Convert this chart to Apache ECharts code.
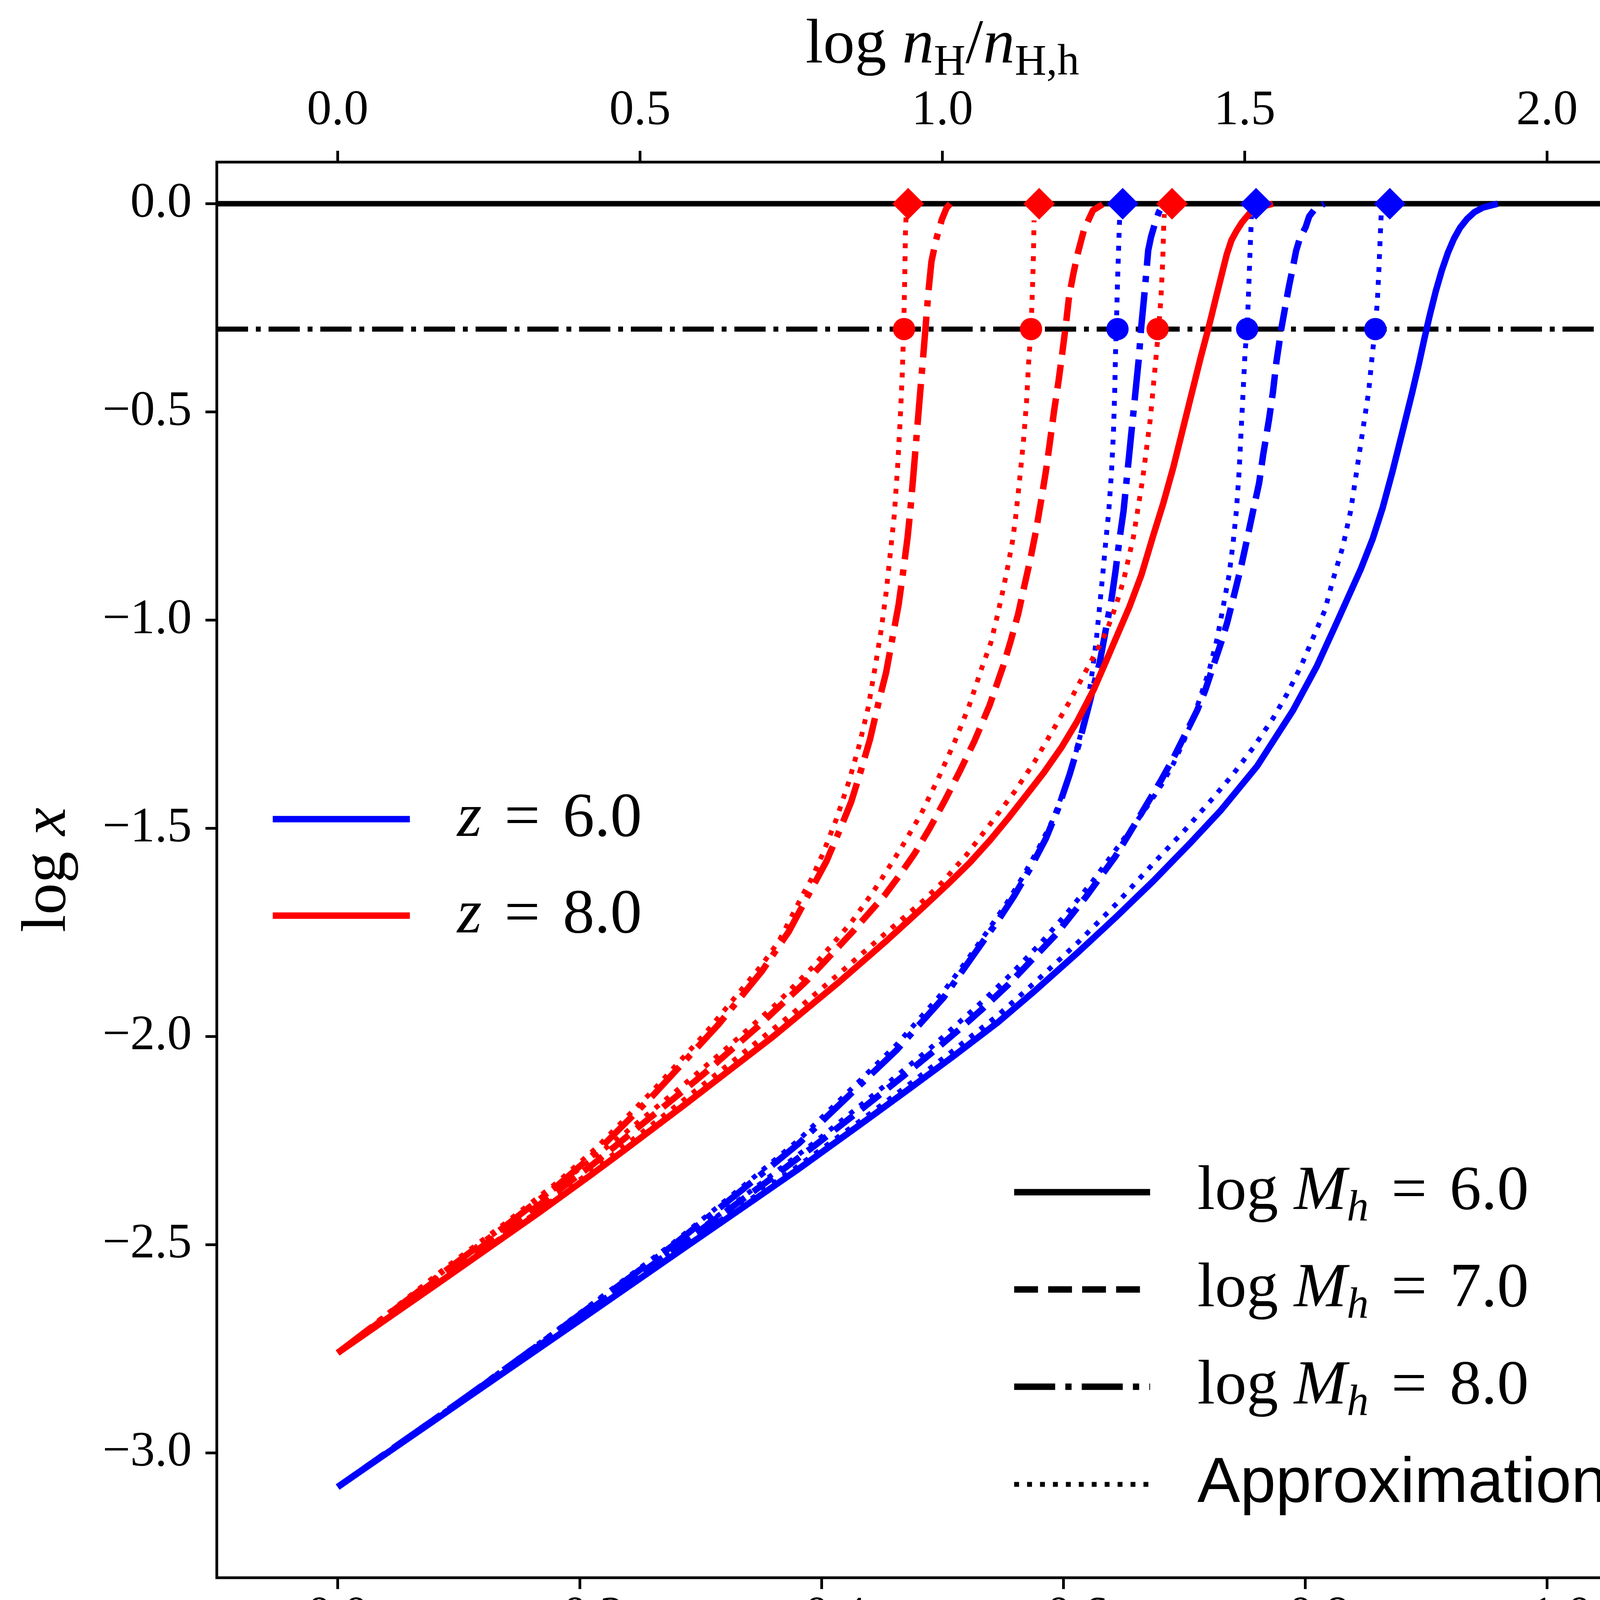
<!DOCTYPE html>
<html lang="en">
<head>
<meta charset="UTF-8">
<title>log x vs log R/Rh</title>
<script src="https://cdn.jsdelivr.net/npm/echarts@6/dist/echarts.min.js"></script>
<style>
  html, body { margin: 0; padding: 0; background: #fff; }
  #chart { width: 4338px; height: 4471px; }
</style>
</head>
<body>
<div id="chart"></div>
<script>
// ---- tick values ----
const bottomTicks = [0, -0.2, -0.4, -0.6, -0.8, -1.0];
const topTicks = [0, 0.5, 1.0, 1.5, 2.0];
const leftTicks = [0, -0.5, -1.0, -1.5, -2.0, -2.5, -3.0];

// ---- reference levels ----
const fullLevel = 0;          // log x = 0
const halfLevel = -0.301;     // log x = log 0.5

// ---- z = 6.0 (blue), [log R/Rh, log x] ----
const blueSolid6 = [[0,-3.082],[-0.1,-2.882],[-0.2,-2.682],[-0.2859,-2.509],[-0.3344,-2.412],[-0.3807,-2.319],[-0.4342,-2.207],[-0.4734,-2.124],[-0.5084,-2.049],[-0.5455,-1.967],[-0.5766,-1.890],[-0.6125,-1.797],[-0.6433,-1.714],[-0.6743,-1.627],[-0.7051,-1.535],[-0.7305,-1.456],[-0.7602,-1.351],[-0.7899,-1.217],[-0.8096,-1.111],[-0.8261,-1.006],[-0.836,-0.942],[-0.8459,-0.878],[-0.8558,-0.805],[-0.8641,-0.730],[-0.8723,-0.642],[-0.8805,-0.547],[-0.8887,-0.451],[-0.894,-0.385],[-0.8985,-0.325],[-0.903,-0.268],[-0.908,-0.21],[-0.913,-0.16],[-0.918,-0.118],[-0.923,-0.084],[-0.928,-0.058],[-0.934,-0.036],[-0.940,-0.020],[-0.947,-0.009],[-0.9593,0]];
const blueDash7 = [[0,-3.082],[-0.1,-2.879],[-0.2,-2.674],[-0.2859,-2.495],[-0.3344,-2.392],[-0.3529,-2.353],[-0.3931,-2.265],[-0.425,-2.193],[-0.4482,-2.140],[-0.4685,-2.093],[-0.4917,-2.038],[-0.5136,-1.984],[-0.533,-1.934],[-0.5547,-1.875],[-0.594,-1.755],[-0.6186,-1.665],[-0.6433,-1.5665],[-0.6619,-1.477],[-0.6804,-1.387],[-0.691,-1.3315],[-0.7009,-1.274],[-0.7107,-1.2167],[-0.7173,-1.169],[-0.7239,-1.111],[-0.7305,-1.054],[-0.7355,-1.006],[-0.7421,-0.9295],[-0.747,-0.872],[-0.752,-0.805],[-0.7569,-0.738],[-0.7619,-0.671],[-0.7652,-0.604],[-0.7701,-0.518],[-0.7734,-0.451],[-0.7762,-0.38],[-0.7803,-0.300],[-0.7834,-0.2495],[-0.7865,-0.200],[-0.7896,-0.156],[-0.7925,-0.113],[-0.7955,-0.084],[-0.8004,-0.056],[-0.8033,-0.0305],[-0.808,-0.0126],[-0.8157,0]];
const blueDashDot8 = [[0,-3.082],[-0.1,-2.879],[-0.1768,-2.718],[-0.2757,-2.505],[-0.335,-2.367],[-0.3814,-2.2566],[-0.4222,-2.1434],[-0.462,-2.0331],[-0.501,-1.9066],[-0.5353,-1.765],[-0.5459,-1.722],[-0.559,-1.664],[-0.5723,-1.598],[-0.5855,-1.525],[-0.5954,-1.455],[-0.6053,-1.37],[-0.6135,-1.29],[-0.6201,-1.2167],[-0.6251,-1.1592],[-0.6301,-1.1018],[-0.635,-1.0252],[-0.6399,-0.9486],[-0.6432,-0.8816],[-0.6465,-0.805],[-0.6498,-0.738],[-0.6531,-0.6423],[-0.6564,-0.5466],[-0.6597,-0.4509],[-0.6625,-0.37],[-0.6643,-0.300],[-0.6667,-0.228],[-0.6689,-0.156],[-0.6702,-0.112],[-0.6725,-0.08],[-0.6755,-0.05],[-0.679,-0.02],[-0.6828,0]];
const blueApprox6 = [[0,-3.082],[-0.1,-2.880],[-0.2,-2.678],[-0.2859,-2.503],[-0.3344,-2.405],[-0.3807,-2.311],[-0.4342,-2.198],[-0.4734,-2.113],[-0.5084,-2.035],[-0.5455,-1.950],[-0.5766,-1.870],[-0.6125,-1.773],[-0.6433,-1.683],[-0.6743,-1.585],[-0.7009,-1.503],[-0.7239,-1.427],[-0.7404,-1.370],[-0.7569,-1.307],[-0.7734,-1.236],[-0.7849,-1.178],[-0.7965,-1.111],[-0.8063,-1.044],[-0.8162,-0.977],[-0.8228,-0.905],[-0.8310,-0.825],[-0.8376,-0.738],[-0.8426,-0.642],[-0.8475,-0.547],[-0.8525,-0.451],[-0.8558,-0.354],[-0.858,-0.300],[-0.8598,-0.228],[-0.861,-0.156],[-0.862,-0.084],[-0.8629,-0.023]];
const blueApprox7 = [[0,-3.082],[-0.1,-2.878],[-0.2,-2.672],[-0.2859,-2.492],[-0.3344,-2.387],[-0.3931,-2.257],[-0.4482,-2.128],[-0.4917,-2.024],[-0.533,-1.916],[-0.5569,-1.850],[-0.5815,-1.775],[-0.6032,-1.703],[-0.6248,-1.625],[-0.6433,-1.552],[-0.658,-1.494],[-0.6695,-1.447],[-0.6811,-1.396],[-0.691,-1.345],[-0.6992,-1.2933],[-0.7075,-1.2358],[-0.714,-1.1783],[-0.7206,-1.121],[-0.7272,-1.0444],[-0.7322,-0.9678],[-0.7371,-0.8912],[-0.7404,-0.8146],[-0.7431,-0.738],[-0.7454,-0.6423],[-0.747,-0.5466],[-0.7487,-0.4509],[-0.7503,-0.3552],[-0.752,-0.300],[-0.753,-0.228],[-0.7539,-0.156],[-0.7548,-0.0844],[-0.7556,-0.03]];
const blueApprox8 = [[0,-3.082],[-0.1,-2.878],[-0.1768,-2.715],[-0.2757,-2.500],[-0.335,-2.360],[-0.3814,-2.248],[-0.4222,-2.133],[-0.462,-2.020],[-0.501,-1.892],[-0.5196,-1.82],[-0.5361,-1.752],[-0.5525,-1.683],[-0.5658,-1.62],[-0.579,-1.551],[-0.5905,-1.4847],[-0.6003,-1.41],[-0.6086,-1.338],[-0.6152,-1.2645],[-0.6201,-1.1976],[-0.6241,-1.121],[-0.6274,-1.0444],[-0.63,-0.9678],[-0.6326,-0.8912],[-0.635,-0.8146],[-0.6376,-0.738],[-0.6399,-0.6423],[-0.6415,-0.5466],[-0.6425,-0.4509],[-0.6432,-0.3552],[-0.6438,-0.300],[-0.6448,-0.19],[-0.6458,-0.1],[-0.6466,-0.03]];

// ---- z = 8.0 (red) ----
const redSolid6 = [[0,-2.76],[-0.0833,-2.592],[-0.1669,-2.422],[-0.2115,-2.328],[-0.2375,-2.272],[-0.2859,-2.166],[-0.3298,-2.068],[-0.3601,-2.000],[-0.4134,-1.872],[-0.4538,-1.770],[-0.4787,-1.704],[-0.4913,-1.670],[-0.5060,-1.630],[-0.5225,-1.583],[-0.539,-1.530],[-0.5554,-1.4723],[-0.5699,-1.4185],[-0.5843,-1.3646],[-0.5987,-1.3048],[-0.6111,-1.245],[-0.6251,-1.1672],[-0.6349,-1.1018],[-0.6448,-1.0348],[-0.6547,-0.9678],[-0.6646,-0.8912],[-0.6745,-0.7955],[-0.6827,-0.719],[-0.691,-0.6327],[-0.6992,-0.537],[-0.7074,-0.4413],[-0.7137,-0.368],[-0.7199,-0.300],[-0.7230,-0.2639],[-0.726,-0.228],[-0.7291,-0.192],[-0.7322,-0.156],[-0.7353,-0.1203],[-0.739,-0.088],[-0.743,-0.0664],[-0.7477,-0.045],[-0.7539,-0.0234],[-0.7616,-0.009],[-0.7733,0]];
const redDash7 = [[0,-2.76],[-0.0903,-2.566],[-0.1669,-2.404],[-0.2115,-2.306],[-0.249,-2.217],[-0.2952,-2.108],[-0.3054,-2.083],[-0.3475,-1.976],[-0.3879,-1.866],[-0.4268,-1.745],[-0.4525,-1.66],[-0.4648,-1.612],[-0.4772,-1.56],[-0.4895,-1.50],[-0.5019,-1.434],[-0.5142,-1.364],[-0.5266,-1.29],[-0.539,-1.205],[-0.5503,-1.11],[-0.5565,-1.05],[-0.5627,-0.985],[-0.5676,-0.920],[-0.5726,-0.8558],[-0.5775,-0.784],[-0.5817,-0.7122],[-0.5857,-0.6404],[-0.5891,-0.5686],[-0.5924,-0.4968],[-0.5961,-0.425],[-0.5993,-0.355],[-0.6022,-0.2886],[-0.6047,-0.224],[-0.6084,-0.1666],[-0.6122,-0.1163],[-0.6171,-0.0625],[-0.6245,-0.0158],[-0.6331,0]];
const redDashDot8 = [[0,-2.76],[-0.0903,-2.56],[-0.1373,-2.458],[-0.1817,-2.358],[-0.2144,-2.276],[-0.2606,-2.142],[-0.3038,-2.006],[-0.3152,-1.97],[-0.3508,-1.843],[-0.373,-1.748],[-0.3907,-1.6518],[-0.404,-1.58],[-0.4154,-1.5023],[-0.4246,-1.4364],[-0.4329,-1.3586],[-0.4401,-1.2869],[-0.4473,-1.1971],[-0.4535,-1.1253],[-0.4589,-1.040],[-0.4638,-0.963],[-0.4675,-0.885],[-0.4712,-0.802],[-0.4737,-0.73],[-0.4762,-0.645],[-0.4786,-0.56],[-0.4811,-0.472],[-0.4836,-0.385],[-0.486,-0.300],[-0.4885,-0.2097],[-0.491,-0.138],[-0.4947,-0.0876],[-0.4996,-0.0373],[-0.5035,-0.01],[-0.5065,0]];
const redApprox6 = [[0,-2.76],[-0.0833,-2.59],[-0.1669,-2.417],[-0.2375,-2.262],[-0.2859,-2.153],[-0.3298,-2.052],[-0.373,-1.952],[-0.4134,-1.852],[-0.4538,-1.75],[-0.4834,-1.676],[-0.4998,-1.63],[-0.5204,-1.562],[-0.541,-1.4842],[-0.5596,-1.4125],[-0.5761,-1.3407],[-0.5905,-1.2689],[-0.6049,-1.1971],[-0.6172,-1.13],[-0.6250,-1.088],[-0.6320,-1.05],[-0.6366,-1.02],[-0.6432,-0.9678],[-0.6498,-0.905],[-0.658,-0.80],[-0.6656,-0.6615],[-0.6719,-0.518],[-0.6771,-0.3552],[-0.6788,-0.300],[-0.6807,-0.228],[-0.6822,-0.1383],[-0.6831,-0.045],[-0.6835,-0.025]];
const redApprox7 = [[0,-2.76],[-0.0903,-2.558],[-0.1669,-2.393],[-0.2375,-2.232],[-0.2836,-2.122],[-0.324,-2.022],[-0.3615,-1.925],[-0.3932,-1.832],[-0.4249,-1.725],[-0.4422,-1.655],[-0.4483,-1.628],[-0.4658,-1.548],[-0.4823,-1.466],[-0.4967,-1.3795],[-0.5101,-1.2928],[-0.5221,-1.206],[-0.5324,-1.1163],[-0.5400,-1.055],[-0.5450,-0.995],[-0.5500,-0.93],[-0.5544,-0.867],[-0.5580,-0.81],[-0.5605,-0.755],[-0.5639,-0.662],[-0.5671,-0.5686],[-0.5696,-0.4753],[-0.5713,-0.382],[-0.5733,-0.300],[-0.5746,-0.1953],[-0.5753,-0.1235],[-0.5758,-0.04]];
const redApprox8 = [[0,-2.76],[-0.0903,-2.553],[-0.1373,-2.451],[-0.1817,-2.35],[-0.2144,-2.266],[-0.2606,-2.13],[-0.3038,-1.993],[-0.3508,-1.828],[-0.3650,-1.77],[-0.3865,-1.6488],[-0.3917,-1.6219],[-0.401,-1.562],[-0.4123,-1.4783],[-0.4226,-1.3886],[-0.4314,-1.2988],[-0.4387,-1.209],[-0.4442,-1.1163],[-0.4494,-1.0235],[-0.4535,-0.9338],[-0.457,-0.8381],[-0.4603,-0.7453],[-0.4631,-0.626],[-0.4650,-0.5255],[-0.4668,-0.4107],[-0.468,-0.300],[-0.4688,-0.188],[-0.4695,-0.0625],[-0.4700,-0.03]];

// ---- markers on the approximation curves ----
const redDiamondX = [-0.4717, -0.580, -0.6899];
const blueDiamondX = [-0.6491, -0.7594, -0.870];
const redCircleX = [-0.4683, -0.5733, -0.678];
const blueCircleX = [-0.6448, -0.752, -0.858];

const BLUE = '#0000ff', RED = '#ff0000', BLACK = '#000000';
const SERIF = 'Liberation Serif';
const DASHED = [61, 26];
const DASHDOT = [105, 26, 16, 26];
const DOTTED = [12.5, 20.6];
const LW = 16.5, LW_DOT = 12.5;

const RICH = {
  n: { fontFamily: SERIF, fontSize: 162, lineHeight: 200, color: BLACK },
  i: { fontFamily: SERIF, fontSize: 162, lineHeight: 200, fontStyle: 'italic', color: BLACK },
  s: { fontFamily: SERIF, fontSize: 112, lineHeight: 112, verticalAlign: 'bottom', color: BLACK },
  si: { fontFamily: SERIF, fontSize: 112, lineHeight: 112, verticalAlign: 'bottom', fontStyle: 'italic', color: BLACK },
  e: { fontFamily: SERIF, fontSize: 162, lineHeight: 200, padding: [0, 58, 0, 58], color: BLACK },
  a: { fontFamily: 'Liberation Sans', fontSize: 164, lineHeight: 200, color: BLACK },
  g: { fontFamily: SERIF, fontSize: 40, width: 116 }
};

const legendText = {
  z6: '{g| }{i|z}{e|=}{n|6.0}',
  z8: '{g| }{i|z}{e|=}{n|8.0}',
  m6: '{g| }{n|log }{i|M}{si|h}{e|=}{n|6.0}',
  m7: '{g| }{n|log }{i|M}{si|h}{e|=}{n|7.0}',
  m8: '{g| }{n|log }{i|M}{si|h}{e|=}{n|8.0}',
  approx: '{g| }{a|Approximation}'
};

function fmt(v) {
  return (v < -1e-9 ? '\u2212' : '') + Math.abs(v).toFixed(1);
}

function curve(name, data, color, type, width) {
  return {
    type: 'line', name: name, data: data, symbol: 'none', silent: true, z: 2,
    lineStyle: { color: color, width: width, type: type, cap: 'butt', join: 'round' },
    emphasis: { disabled: true }
  };
}

function legendOnly(name, color, type, width) {
  return {
    type: 'line', name: name, data: [], symbol: 'none', silent: true,
    itemStyle: { color: color },
    lineStyle: { color: color, width: width, type: type, cap: 'butt' }
  };
}

function markers(xs, y, symbol, size, color) {
  return {
    type: 'scatter', data: xs.map(function (x) { return [x, y]; }),
    symbol: symbol, symbolSize: size, silent: true, z: 4,
    itemStyle: { color: color, opacity: 1 }
  };
}

const tickStyle = { show: true, length: 29, lineStyle: { color: BLACK, width: 7 } };
const labelStyle = { fontFamily: SERIF, fontSize: 126, color: BLACK, formatter: fmt };

const chart = echarts.init(document.getElementById('chart'));
chart.setOption({
  animation: false,
  backgroundColor: '#ffffff',
  grid: { left: 555, right: 68, top: 415, bottom: 432, show: true, borderColor: BLACK, borderWidth: 7 },
  xAxis: [
    {
      type: 'value', position: 'bottom', min: -1.1, max: 0.1, inverse: true,
      axisLine: { show: false, onZero: false }, splitLine: { show: false },
      axisTick: Object.assign({ customValues: bottomTicks }, tickStyle),
      axisLabel: Object.assign({ customValues: bottomTicks, margin: 39 }, labelStyle),
      name: '{n|log }{i|R}{n|/}{i|R}{si|h}', nameLocation: 'middle', nameGap: 183,
      nameTextStyle: { rich: RICH }
    },
    {
      type: 'value', position: 'top', min: -0.2, max: 2.2,
      axisLine: { show: false, onZero: false }, splitLine: { show: false },
      axisTick: Object.assign({ customValues: topTicks }, tickStyle),
      axisLabel: Object.assign({ customValues: topTicks, margin: 67 }, labelStyle),
      name: '{n|log }{i|n}{s|H}{n|/}{i|n}{s|H,h}', nameLocation: 'middle', nameGap: 160,
      nameTextStyle: { rich: RICH }
    }
  ],
  yAxis: {
    type: 'value', min: -3.3, max: 0.1,
    axisLine: { show: false, onZero: false }, splitLine: { show: false },
    axisTick: Object.assign({ customValues: leftTicks }, tickStyle),
    axisLabel: Object.assign({ customValues: leftTicks, margin: 64 }, labelStyle),
    name: '{n|log }{i|x}', nameLocation: 'middle', nameRotate: 90, nameGap: 332,
    nameTextStyle: { rich: RICH }
  },
  legend: [
    {
      orient: 'vertical', left: 690, top: 2016, padding: 0, itemGap: 85,
      itemWidth: 351, itemHeight: 20, selectedMode: false,
      data: ['z6', 'z8'],
      formatter: function (n) { return legendText[n]; },
      textStyle: { rich: RICH },
      itemStyle: { opacity: 0 },
      lineStyle: { width: LW }
    },
    {
      orient: 'vertical', left: 2588, top: 2971, padding: 0, itemGap: 68,
      itemWidth: 348, itemHeight: 20, selectedMode: false,
      data: ['m6', 'm7', 'm8', { name: 'approx', lineStyle: { width: LW_DOT } }],
      formatter: function (n) { return legendText[n]; },
      textStyle: { rich: RICH },
      itemStyle: { opacity: 0 },
      lineStyle: { width: LW }
    }
  ],
  series: [
    // reference levels
    { type: 'line', data: [[0.1, fullLevel], [-1.1, fullLevel]], symbol: 'none', silent: true, z: 1,
      lineStyle: { color: BLACK, width: 14 } },
    { type: 'line', data: [[0.1, halfLevel], [-1.1, halfLevel]], symbol: 'none', silent: true, z: 1,
      lineStyle: { color: BLACK, width: 13, type: [80, 20, 12.5, 20], cap: 'butt' } },

    curve('blueSolid6', blueSolid6, BLUE, 'solid', LW),
    curve('blueDash7', blueDash7, BLUE, DASHED, LW),
    curve('blueDashDot8', blueDashDot8, BLUE, DASHDOT, LW),
    curve('blueApprox6', blueApprox6, BLUE, DOTTED, LW_DOT),
    curve('blueApprox7', blueApprox7, BLUE, DOTTED, LW_DOT),
    curve('blueApprox8', blueApprox8, BLUE, DOTTED, LW_DOT),
    curve('redSolid6', redSolid6, RED, 'solid', LW),
    curve('redDash7', redDash7, RED, DASHED, LW),
    curve('redDashDot8', redDashDot8, RED, DASHDOT, LW),
    curve('redApprox6', redApprox6, RED, DOTTED, LW_DOT),
    curve('redApprox7', redApprox7, RED, DOTTED, LW_DOT),
    curve('redApprox8', redApprox8, RED, DOTTED, LW_DOT),

    markers(redDiamondX, fullLevel, 'diamond', [81, 81], RED),
    markers(blueDiamondX, fullLevel, 'diamond', [81, 81], BLUE),
    markers(redCircleX, halfLevel, 'circle', 57, RED),
    markers(blueCircleX, halfLevel, 'circle', 57, BLUE),

    // legend-only entries
    legendOnly('z6', BLUE, 'solid', LW),
    legendOnly('z8', RED, 'solid', LW),
    legendOnly('m6', BLACK, 'solid', LW),
    legendOnly('m7', BLACK, DASHED, LW),
    legendOnly('m8', BLACK, DASHDOT, LW),
    legendOnly('approx', BLACK, DOTTED, LW_DOT)
  ]
});
</script>
</body>
</html>
